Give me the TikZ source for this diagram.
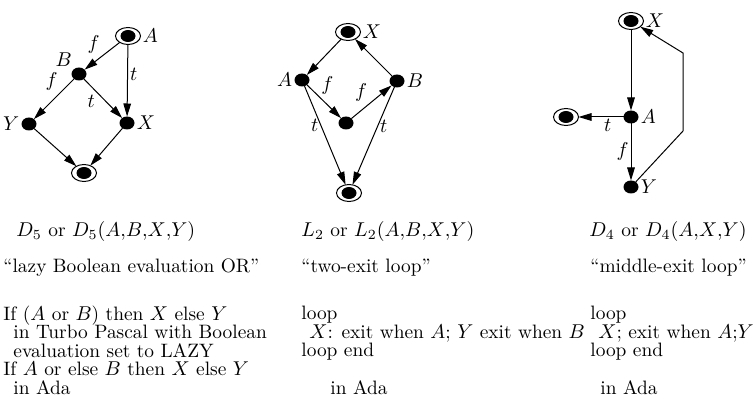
\documentclass[tikz,border=0pt]{standalone}
\usepackage{amsmath}
\usepackage{tikz}
\usetikzlibrary{shapes,arrows.meta,positioning,calc}
\tikzset{
    dot/.style={ellipse, fill=black, inner sep=0pt, outer sep=0pt,
                minimum width=7.5pt, minimum height=6.5pt},
    term/.style={ellipse, draw, line width=0.5pt, inner sep=0pt, outer sep=0pt,
                 minimum width=12.5pt, minimum height=8.5pt,
                 path picture={\fill (path picture bounding box.center)
                               ellipse (3.75pt and 3pt);}},
    lab/.style={font=\fontsize{10}{10}\selectfont, inner sep=1pt},
    txt/.style={anchor=base west, inner sep=0pt, align=left,
                font=\fontsize{9.7}{9.25}\selectfont},
}

\begin{document}
\begin{tikzpicture}[
    x=0.5pt, y=-0.5pt,
    arr/.style={line width=0.5pt, -{Triangle[length=6.5pt,width=3.8pt]}},
    label distance=0pt
]
    \useasboundingbox (0,0) rectangle (755,406);

    \node[term, label={[lab]right:$A$}] (a1) at (128,36) {};
    \node[dot, label={[lab]above left:$B$}] (b1) at (79,74) {};
    \node[dot, label={[lab]left:$Y$}] (y1) at (29,124) {};
    \node[dot, label={[lab]right:$X$}] (x1) at (127,123) {};
    \node[term] (e1) at (84,173) {};

    \draw[arr] (a1) -- node[lab, above left] {$f$} (b1);
    \draw[arr] (a1) -- node[lab, right, pos=0.42] {$t$} (x1);
    \draw[arr] (b1) -- node[lab, above left, pos=0.35] {$f$} (y1);
    \draw[arr] (b1) -- node[lab, below left, pos=0.35] {$t$} (x1);
    \draw[arr] (y1) -- (e1);
    \draw[arr] (x1) -- (e1);

    \node[term, label={[lab]right:$X$}] (x2) at (348,32) {};
    \node[dot, label={[lab]left:$A$}] (a2) at (302,80) {};
    \node[dot] (m2) at (346,123) {};
    \node[dot, label={[lab]right:$B$}] (b2) at (397,81) {};
    \node[term] (e2) at (349,193) {};

    \draw[arr] (x2) -- (a2);
    \draw[arr] (a2) -- node[lab, above right, pos=0.35] {$f$} (m2);
    \draw[arr] (m2) -- node[lab, above left, pos=0.45] {$f$} (b2);
    \draw[arr] (b2) -- (x2);
    \draw[arr] (a2) -- node[lab, left, pos=0.4] {$t$} (e2);
    \draw[arr] (b2) -- node[lab, right, pos=0.4] {$t$} (e2);

    \node[term, label={[lab]right:$X$}] (x3) at (631,21) {};
    \node[dot, label={[lab]right:$A$}] (a3) at (631,117) {};
    \node[term] (l3) at (566,117) {};
    \node[dot, label={[lab]right:$Y$}] (y3) at (631,187) {};

    \draw[arr] (x3) -- (a3);
    \draw[arr] (a3) -- node[lab, below, pos=0.35] {$t$} (l3);
    \draw[arr] (a3) -- node[lab, left] {$f$} (y3);
    \draw[arr] (y3) -- (683,131) -- (683,53) -- (x3);

    \node[txt] (name1) at (16,237) {$D_5$ or $D_5(A{,}B{,}X{,}Y)$};
    \node[txt] (name2) at (301,237) {$L_2$ or $L_2(A{,}B{,}X{,}Y)$};
    \node[txt] (name3) at (589,237) {$D_4$ or $D_4(A{,}X{,}Y)$};

    \node[txt] (nick1) at (3,273) {``lazy Boolean evaluation OR''};
    \node[txt] (nick2) at (301,273) {``two-exit loop''};
    \node[txt] (nick3) at (590,273) {``middle-exit loop''};

    \node[txt] (code1) at (3,394) {If ($A$ or $B$) then $X$ else $Y$\\
        \hspace*{5pt}in Turbo Pascal with Boolean\\
        \hspace*{5pt}evaluation set to LAZY\\
        If $A$ or else $B$ then $X$ else $Y$\\
        \hspace*{5pt}in Ada};
    \node[txt] (code2) at (301,357) {loop\\
        \hspace*{4pt}$X$: exit when $A$; $Y$ exit when $B$\\
        loop end};
    \node[txt] (ada2) at (330,394) {in Ada};
    \node[txt] (code3) at (590,357) {loop\\
        \hspace*{4pt}$X$; exit when $A$;$Y$\\
        loop end};
    \node[txt] (ada3) at (600,394) {in Ada};
\end{tikzpicture}
\end{document}
